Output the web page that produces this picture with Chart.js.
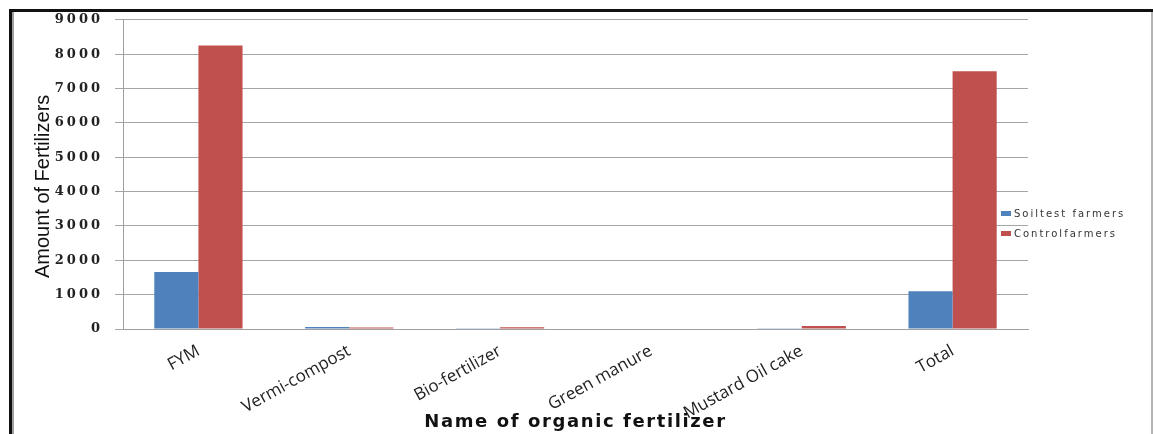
<!DOCTYPE html>
<html>
<head>
<meta charset="utf-8">
<script src="https://cdn.jsdelivr.net/npm/chart.js@4.4.1/dist/chart.umd.min.js"></script>
<style>
  html, body { margin: 0; padding: 0; background: #fff; }
  #wrap { position: relative; width: 1153px; height: 434px; overflow: hidden; }
  canvas { position: absolute; left: 0; top: 0; }
  .frame-top { position: absolute; left: 9px; top: 9px; width: 1144px; height: 3px; background: #111; }
  .frame-left { position: absolute; left: 9px; top: 9px; width: 3px; height: 425px; background: #111; }
  .frame-left2 { position: absolute; left: 12px; top: 12px; width: 2px; height: 422px; background: #a0a0a0; }
  .frame-right { position: absolute; left: 1151px; top: 12px; width: 2px; height: 422px; background: #b4b4b4; }
  #legend { position: absolute; left: 1001px; top: 206px; font-family: "DejaVu Sans", sans-serif; font-size: 10px; letter-spacing: 2px; color: #333; }
  .item { position: relative; height: 20px; }
  .sw { position: absolute; left: 0; top: 5px; width: 10px; height: 5px; }
  .tx { position: absolute; left: 13px; top: 0px; white-space: nowrap; line-height: 15px; }
</style>
</head>
<body>
<div id="wrap">
  <canvas id="c" width="1153" height="434"></canvas>
  <div class="frame-top"></div>
  <div class="frame-left"></div>
  <div class="frame-left2"></div>
  <div class="frame-right"></div>
  <div id="legend"></div>
</div>
<script>
const categories = ["FYM", "Vermi-compost", "Bio-fertilizer", "Green manure", "Mustard Oil cake", "Total"];
const soiltestFarmers = [1660, 60, 25, 0, 25, 1100];
const controlFarmers = [8250, 45, 50, 0, 90, 7500];
const seriesNames = ["Soiltest farmers", "Controlfarmers"];
const seriesColors = ["#4F81BD", "#C0504D"];
const yTicks = [0, 1000, 2000, 3000, 4000, 5000, 6000, 7000, 8000, 9000];

const datasets = [soiltestFarmers, controlFarmers].map((d, i) => ({
  label: seriesNames[i],
  data: d,
  backgroundColor: seriesColors[i],
  borderWidth: 0,
  barPercentage: 1.0,
  categoryPercentage: 0.585
}));

// HTML legend built from datasets
const lg = document.getElementById('legend');
datasets.forEach(ds => {
  const it = document.createElement('div');
  it.className = 'item';
  const sw = document.createElement('div');
  sw.className = 'sw';
  sw.style.background = ds.backgroundColor;
  const tx = document.createElement('div');
  tx.className = 'tx';
  tx.textContent = ds.label;
  it.appendChild(sw); it.appendChild(tx);
  lg.appendChild(it);
});

// style tweaks: letter spacing for some texts, small shift of y title
const textStyle = {
  id: 'textStyle',
  afterLayout(chart) {
    const xs = chart.scales.x, ys = chart.scales.y;
    if (!xs._patched) {
      const o = xs.drawTitle.bind(xs);
      xs.drawTitle = function () { const c = this.ctx; c.save(); c.letterSpacing = '1.6px'; o(); c.restore(); };
      xs._patched = true;
    }
    if (!ys._patched) {
      const oL = ys.drawLabels.bind(ys);
      ys.drawLabels = function (a) { const c = this.ctx; c.save(); c.letterSpacing = '3px'; oL(a); c.restore(); };
      const oT = ys.drawTitle.bind(ys);
      ys.drawTitle = function () { const c = this.ctx; c.save(); c.translate(0, 12); oT(); c.restore(); };
      ys._patched = true;
    }
  }
};

new Chart(document.getElementById('c'), {
  type: 'bar',
  data: { labels: categories, datasets: datasets },
  plugins: [textStyle],
  options: {
    responsive: false,
    animation: false,
    devicePixelRatio: 1,
    layout: { padding: { top: 16, left: 0, right: 125, bottom: 0 } },
    plugins: { legend: { display: false }, tooltip: { enabled: false } },
    scales: {
      x: {
        grid: { display: false, drawTicks: false },
        border: { display: true, color: '#a0a0a0', width: 1 },
        ticks: {
          color: '#222',
          font: { family: "'Open Sans', sans-serif", size: 17 },
          minRotation: 29, maxRotation: 29,
          padding: 12,
          autoSkip: false
        },
        title: {
          display: true,
          text: 'Name of organic fertilizer',
          color: '#111',
          font: { family: "'DejaVu Sans', sans-serif", size: 18, weight: 'bold' },
          padding: { top: 0, bottom: 1 }
        },
        afterFit: (s) => { s.height = 105; }
      },
      y: {
        min: 0, max: 9000,
        afterBuildTicks: (s) => { s.ticks = yTicks.map(v => ({ value: v })); },
        grid: { color: '#a6a6a6', lineWidth: 1, tickLength: 8, drawTicks: true },
        border: { display: true, color: '#a0a0a0', width: 1 },
        ticks: {
          color: '#222',
          font: { family: "'DejaVu Serif', serif", size: 13, weight: 'bold' },
          padding: 12,
          callback: (v) => String(v)
        },
        title: {
          display: true,
          text: 'Amount of Fertilizers',
          color: '#111',
          font: { family: "'Liberation Sans Narrow', 'Liberation Sans', sans-serif", size: 20 },
          padding: { top: 31, bottom: 0 }
        },
        afterFit: (s) => { s.width = 123; }
      }
    }
  }
});
</script>
</body>
</html>
